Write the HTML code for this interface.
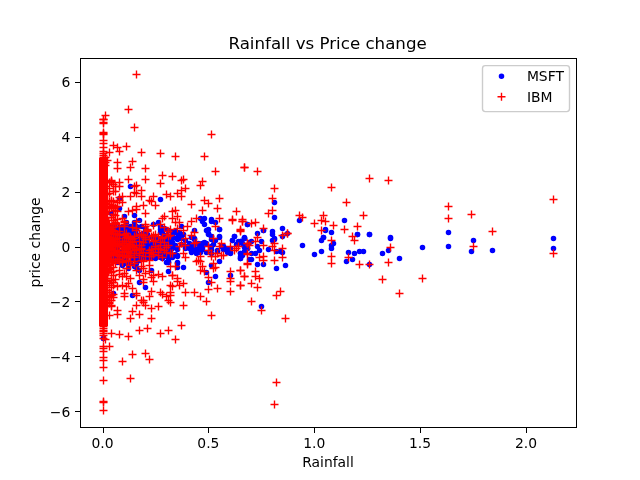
<!DOCTYPE html>
<html><head><meta charset="utf-8"><title>Rainfall vs Price change</title>
<style>
html,body{margin:0;padding:0;background:#fff;}
svg{display:block}
text{font-family:"DejaVu Sans","Liberation Sans",sans-serif;fill:#000}
.t{font-size:13.89px}
.r{stroke:#f00;stroke-width:1.39;fill:none}
.b{fill:#00f;stroke:#00f;stroke-width:1.39}
</style></head><body>
<svg width="640" height="480" viewBox="0 0 640 480">
<defs>
<path id="p" d="M-4 0H4M0 -4V4"/>
<circle id="d" r="2.08"/>
<clipPath id="c"><rect x="80" y="57.6" width="496" height="369.6"/></clipPath>
</defs>
<rect width="640" height="480" fill="#fff"/>

<g stroke="#000" stroke-width="1" shape-rendering="crispEdges">
<line x1="103.5" x2="103.5" y1="427.5" y2="432.5"/>
<line x1="208.5" x2="208.5" y1="427.5" y2="432.5"/>
<line x1="314.5" x2="314.5" y1="427.5" y2="432.5"/>
<line x1="420.5" x2="420.5" y1="427.5" y2="432.5"/>
<line x1="526.5" x2="526.5" y1="427.5" y2="432.5"/>
<line x1="75.2" x2="80" y1="82.5" y2="82.5"/>
<line x1="75.2" x2="80" y1="137.5" y2="137.5"/>
<line x1="75.2" x2="80" y1="192.5" y2="192.5"/>
<line x1="75.2" x2="80" y1="247.5" y2="247.5"/>
<line x1="75.2" x2="80" y1="301.5" y2="301.5"/>
<line x1="75.2" x2="80" y1="356.5" y2="356.5"/>
<line x1="75.2" x2="80" y1="411.5" y2="411.5"/>
</g>
<g class="t" text-anchor="middle">
<text x="102.55" y="448.28">0.0</text>
<text x="208.39" y="448.28">0.5</text>
<text x="314.24" y="448.28">1.0</text>
<text x="420.09" y="448.28">1.5</text>
<text x="525.93" y="448.28">2.0</text>
<text x="328" y="467.17">Rainfall</text>
</g>
<g class="t" text-anchor="end">
<text x="70.28" y="87.48">6</text>
<text x="70.28" y="142.33">4</text>
<text x="70.28" y="197.18">2</text>
<text x="70.28" y="252.03">0</text>
<text x="70.28" y="306.88">−2</text>
<text x="70.28" y="361.73">−4</text>
<text x="70.28" y="416.58">−6</text>
</g>
<text class="t" text-anchor="middle" transform="translate(40.36 242.4) rotate(-90)">price change</text>
<text text-anchor="middle" x="327.6" y="49.27" style="font-size:16.67px">Rainfall vs Price change</text>
<g clip-path="url(#c)">
<g class="b">
<use href="#d" x="130.5" y="186.5"/>
<use href="#d" x="160.5" y="199.5"/>
<use href="#d" x="124.5" y="216.5"/>
<use href="#d" x="111.5" y="213.5"/>
<use href="#d" x="134.5" y="215.5"/>
<use href="#d" x="119.5" y="198.5"/>
<use href="#d" x="274.5" y="202.5"/>
<use href="#d" x="274.5" y="217.5"/>
<use href="#d" x="299.5" y="220.5"/>
<use href="#d" x="344.5" y="220.5"/>
<use href="#d" x="247.5" y="224.5"/>
<use href="#d" x="282.5" y="228.5"/>
<use href="#d" x="263.5" y="230.5"/>
<use href="#d" x="272.5" y="231.5"/>
<use href="#d" x="272.5" y="234.5"/>
<use href="#d" x="287.5" y="233.5"/>
<use href="#d" x="257.5" y="233.5"/>
<use href="#d" x="325.5" y="229.5"/>
<use href="#d" x="331.5" y="232.5"/>
<use href="#d" x="357.5" y="234.5"/>
<use href="#d" x="369.5" y="234.5"/>
<use href="#d" x="323.5" y="237.5"/>
<use href="#d" x="390.5" y="237.5"/>
<use href="#d" x="244.5" y="237.5"/>
<use href="#d" x="274.5" y="238.5"/>
<use href="#d" x="448.5" y="232.5"/>
<use href="#d" x="473.5" y="240.5"/>
<use href="#d" x="553.5" y="238.5"/>
<use href="#d" x="553.5" y="248.5"/>
<use href="#d" x="422.5" y="247.5"/>
<use href="#d" x="448.5" y="246.5"/>
<use href="#d" x="471.5" y="251.5"/>
<use href="#d" x="492.5" y="250.5"/>
<use href="#d" x="399.5" y="258.5"/>
<use href="#d" x="325.5" y="230.5"/>
<use href="#d" x="323.5" y="237.5"/>
<use href="#d" x="321.5" y="240.5"/>
<use href="#d" x="357.5" y="234.5"/>
<use href="#d" x="369.5" y="234.5"/>
<use href="#d" x="390.5" y="238.5"/>
<use href="#d" x="333.5" y="243.5"/>
<use href="#d" x="331.5" y="245.5"/>
<use href="#d" x="331.5" y="248.5"/>
<use href="#d" x="321.5" y="251.5"/>
<use href="#d" x="348.5" y="252.5"/>
<use href="#d" x="354.5" y="253.5"/>
<use href="#d" x="359.5" y="251.5"/>
<use href="#d" x="363.5" y="251.5"/>
<use href="#d" x="382.5" y="253.5"/>
<use href="#d" x="388.5" y="250.5"/>
<use href="#d" x="346.5" y="261.5"/>
<use href="#d" x="352.5" y="259.5"/>
<use href="#d" x="369.5" y="264.5"/>
<use href="#d" x="263.5" y="230.5"/>
<use href="#d" x="282.5" y="236.5"/>
<use href="#d" x="244.5" y="238.5"/>
<use href="#d" x="240.5" y="241.5"/>
<use href="#d" x="244.5" y="245.5"/>
<use href="#d" x="251.5" y="241.5"/>
<use href="#d" x="261.5" y="241.5"/>
<use href="#d" x="272.5" y="240.5"/>
<use href="#d" x="274.5" y="239.5"/>
<use href="#d" x="257.5" y="246.5"/>
<use href="#d" x="259.5" y="250.5"/>
<use href="#d" x="255.5" y="253.5"/>
<use href="#d" x="251.5" y="253.5"/>
<use href="#d" x="268.5" y="249.5"/>
<use href="#d" x="276.5" y="251.5"/>
<use href="#d" x="280.5" y="251.5"/>
<use href="#d" x="282.5" y="252.5"/>
<use href="#d" x="242.5" y="253.5"/>
<use href="#d" x="240.5" y="258.5"/>
<use href="#d" x="251.5" y="259.5"/>
<use href="#d" x="257.5" y="264.5"/>
<use href="#d" x="263.5" y="264.5"/>
<use href="#d" x="276.5" y="268.5"/>
<use href="#d" x="285.5" y="265.5"/>
<use href="#d" x="302.5" y="245.5"/>
<use href="#d" x="314.5" y="254.5"/>
<use href="#d" x="261.5" y="306.5"/>
<use href="#d" x="103.5" y="338.5"/>
<use href="#d" x="139.5" y="282.5"/>
<use href="#d" x="145.5" y="287.5"/>
<use href="#d" x="113.5" y="293.5"/>
<use href="#d" x="132.5" y="295.5"/>
<use href="#d" x="103.5" y="338.5"/>
<use href="#d" x="208.5" y="282.5"/>
<use href="#d" x="202.5" y="221.5"/>
<use href="#d" x="204.5" y="224.5"/>
<use href="#d" x="211.5" y="221.5"/>
<use href="#d" x="215.5" y="222.5"/>
<use href="#d" x="208.5" y="229.5"/>
<use href="#d" x="219.5" y="229.5"/>
<use href="#d" x="208.5" y="233.5"/>
<use href="#d" x="211.5" y="236.5"/>
<use href="#d" x="219.5" y="236.5"/>
<use href="#d" x="181.5" y="226.5"/>
<use href="#d" x="175.5" y="231.5"/>
<use href="#d" x="179.5" y="232.5"/>
<use href="#d" x="172.5" y="235.5"/>
<use href="#d" x="177.5" y="237.5"/>
<use href="#d" x="172.5" y="242.5"/>
<use href="#d" x="194.5" y="230.5"/>
<use href="#d" x="194.5" y="238.5"/>
<use href="#d" x="234.5" y="236.5"/>
<use href="#d" x="244.5" y="238.5"/>
<use href="#d" x="232.5" y="240.5"/>
<use href="#d" x="240.5" y="241.5"/>
<use href="#d" x="238.5" y="243.5"/>
<use href="#d" x="247.5" y="224.5"/>
<use href="#d" x="202.5" y="243.5"/>
<use href="#d" x="206.5" y="243.5"/>
<use href="#d" x="200.5" y="246.5"/>
<use href="#d" x="202.5" y="249.5"/>
<use href="#d" x="191.5" y="246.5"/>
<use href="#d" x="189.5" y="248.5"/>
<use href="#d" x="191.5" y="250.5"/>
<use href="#d" x="196.5" y="252.5"/>
<use href="#d" x="185.5" y="248.5"/>
<use href="#d" x="211.5" y="246.5"/>
<use href="#d" x="223.5" y="246.5"/>
<use href="#d" x="225.5" y="248.5"/>
<use href="#d" x="227.5" y="251.5"/>
<use href="#d" x="230.5" y="252.5"/>
<use href="#d" x="206.5" y="252.5"/>
<use href="#d" x="217.5" y="250.5"/>
<use href="#d" x="240.5" y="253.5"/>
<use href="#d" x="240.5" y="256.5"/>
<use href="#d" x="240.5" y="258.5"/>
<use href="#d" x="249.5" y="259.5"/>
<use href="#d" x="177.5" y="255.5"/>
<use href="#d" x="172.5" y="255.5"/>
<use href="#d" x="219.5" y="261.5"/>
<use href="#d" x="211.5" y="265.5"/>
<use href="#d" x="177.5" y="263.5"/>
<use href="#d" x="183.5" y="267.5"/>
<use href="#d" x="206.5" y="272.5"/>
<use href="#d" x="215.5" y="276.5"/>
<use href="#d" x="230.5" y="275.5"/>
<use href="#d" x="244.5" y="246.5"/>
<use href="#d" x="247.5" y="248.5"/>
<use href="#d" x="200.5" y="218.5"/>
<use href="#d" x="204.5" y="218.5"/>
<use href="#d" x="211.5" y="219.5"/>
<use href="#d" x="119.5" y="208.5"/>
<use href="#d" x="168.5" y="271.5"/>
<use href="#d" x="168.5" y="262.5"/>
<use href="#d" x="151.5" y="270.5"/>
<use href="#d" x="139.5" y="270.5"/>
<use href="#d" x="177.5" y="262.5"/>
<use href="#d" x="177.5" y="267.5"/>
<use href="#d" x="126.5" y="263.5"/>
<use href="#d" x="122.5" y="265.5"/>
<use href="#d" x="128.5" y="268.5"/>
<use href="#d" x="219.5" y="229.5"/>
<use href="#d" x="219.5" y="237.5"/>
<use href="#d" x="234.5" y="236.5"/>
<use href="#d" x="244.5" y="238.5"/>
<use href="#d" x="232.5" y="240.5"/>
<use href="#d" x="211.5" y="236.5"/>
<use href="#d" x="211.5" y="239.5"/>
<use href="#d" x="215.5" y="240.5"/>
<use href="#d" x="213.5" y="244.5"/>
<use href="#d" x="211.5" y="246.5"/>
<use href="#d" x="238.5" y="241.5"/>
<use href="#d" x="236.5" y="244.5"/>
<use href="#d" x="242.5" y="243.5"/>
<use href="#d" x="223.5" y="246.5"/>
<use href="#d" x="223.5" y="249.5"/>
<use href="#d" x="244.5" y="247.5"/>
<use href="#d" x="247.5" y="248.5"/>
<use href="#d" x="249.5" y="242.5"/>
<use href="#d" x="217.5" y="251.5"/>
<use href="#d" x="211.5" y="249.5"/>
<use href="#d" x="230.5" y="248.5"/>
<use href="#d" x="227.5" y="252.5"/>
<use href="#d" x="230.5" y="253.5"/>
<use href="#d" x="240.5" y="253.5"/>
<use href="#d" x="242.5" y="255.5"/>
<use href="#d" x="244.5" y="251.5"/>
<use href="#d" x="221.5" y="246.5"/>
<use href="#d" x="211.5" y="253.5"/>
<use href="#d" x="172.5" y="233.5"/>
<use href="#d" x="175.5" y="232.5"/>
<use href="#d" x="179.5" y="233.5"/>
<use href="#d" x="183.5" y="234.5"/>
<use href="#d" x="172.5" y="238.5"/>
<use href="#d" x="177.5" y="239.5"/>
<use href="#d" x="181.5" y="238.5"/>
<use href="#d" x="185.5" y="240.5"/>
<use href="#d" x="172.5" y="243.5"/>
<use href="#d" x="175.5" y="245.5"/>
<use href="#d" x="181.5" y="244.5"/>
<use href="#d" x="185.5" y="246.5"/>
<use href="#d" x="172.5" y="248.5"/>
<use href="#d" x="177.5" y="249.5"/>
<use href="#d" x="189.5" y="243.5"/>
<use href="#d" x="194.5" y="244.5"/>
<use href="#d" x="198.5" y="243.5"/>
<use href="#d" x="202.5" y="243.5"/>
<use href="#d" x="204.5" y="242.5"/>
<use href="#d" x="191.5" y="248.5"/>
<use href="#d" x="194.5" y="249.5"/>
<use href="#d" x="198.5" y="248.5"/>
<use href="#d" x="202.5" y="247.5"/>
<use href="#d" x="191.5" y="252.5"/>
<use href="#d" x="196.5" y="253.5"/>
<use href="#d" x="200.5" y="252.5"/>
<use href="#d" x="206.5" y="230.5"/>
<use href="#d" x="208.5" y="234.5"/>
<use href="#d" x="191.5" y="237.5"/>
<use href="#d" x="194.5" y="239.5"/>
<use href="#d" x="170.5" y="250.5"/>
<use href="#d" x="175.5" y="254.5"/>
<use href="#d" x="172.5" y="257.5"/>
<use href="#d" x="177.5" y="256.5"/>
<use href="#d" x="134.5" y="222.5"/>
<use href="#d" x="136.5" y="226.5"/>
<use href="#d" x="158.5" y="222.5"/>
<use href="#d" x="160.5" y="226.5"/>
<use href="#d" x="160.5" y="229.5"/>
<use href="#d" x="164.5" y="228.5"/>
<use href="#d" x="168.5" y="230.5"/>
<use href="#d" x="172.5" y="232.5"/>
<use href="#d" x="162.5" y="233.5"/>
<use href="#d" x="166.5" y="235.5"/>
<use href="#d" x="170.5" y="236.5"/>
<use href="#d" x="141.5" y="226.5"/>
<use href="#d" x="145.5" y="230.5"/>
<use href="#d" x="143.5" y="234.5"/>
<use href="#d" x="147.5" y="236.5"/>
<use href="#d" x="147.5" y="242.5"/>
<use href="#d" x="151.5" y="244.5"/>
<use href="#d" x="155.5" y="243.5"/>
<use href="#d" x="160.5" y="245.5"/>
<use href="#d" x="164.5" y="244.5"/>
<use href="#d" x="168.5" y="243.5"/>
<use href="#d" x="172.5" y="245.5"/>
<use href="#d" x="141.5" y="243.5"/>
<use href="#d" x="145.5" y="242.5"/>
<use href="#d" x="149.5" y="243.5"/>
<use href="#d" x="153.5" y="242.5"/>
<use href="#d" x="158.5" y="243.5"/>
<use href="#d" x="162.5" y="242.5"/>
<use href="#d" x="166.5" y="243.5"/>
<use href="#d" x="170.5" y="242.5"/>
<use href="#d" x="143.5" y="247.5"/>
<use href="#d" x="147.5" y="248.5"/>
<use href="#d" x="151.5" y="247.5"/>
<use href="#d" x="155.5" y="248.5"/>
<use href="#d" x="158.5" y="247.5"/>
<use href="#d" x="162.5" y="248.5"/>
<use href="#d" x="166.5" y="247.5"/>
<use href="#d" x="141.5" y="252.5"/>
<use href="#d" x="145.5" y="252.5"/>
<use href="#d" x="149.5" y="253.5"/>
<use href="#d" x="153.5" y="252.5"/>
<use href="#d" x="158.5" y="253.5"/>
<use href="#d" x="162.5" y="254.5"/>
<use href="#d" x="166.5" y="253.5"/>
<use href="#d" x="170.5" y="252.5"/>
<use href="#d" x="143.5" y="257.5"/>
<use href="#d" x="147.5" y="257.5"/>
<use href="#d" x="151.5" y="257.5"/>
<use href="#d" x="155.5" y="257.5"/>
<use href="#d" x="160.5" y="257.5"/>
<use href="#d" x="164.5" y="256.5"/>
<use href="#d" x="168.5" y="257.5"/>
<use href="#d" x="168.5" y="262.5"/>
<use href="#d" x="136.5" y="263.5"/>
<use href="#d" x="136.5" y="267.5"/>
<use href="#d" x="134.5" y="266.5"/>
<use href="#d" x="126.5" y="227.5"/>
<use href="#d" x="128.5" y="239.5"/>
<use href="#d" x="130.5" y="241.5"/>
<use href="#d" x="130.5" y="243.5"/>
<use href="#d" x="141.5" y="247.5"/>
<use href="#d" x="117.5" y="242.5"/>
<use href="#d" x="145.5" y="242.5"/>
<use href="#d" x="132.5" y="251.5"/>
<use href="#d" x="113.5" y="248.5"/>
<use href="#d" x="132.5" y="248.5"/>
<use href="#d" x="143.5" y="233.5"/>
<use href="#d" x="128.5" y="246.5"/>
<use href="#d" x="151.5" y="246.5"/>
<use href="#d" x="117.5" y="247.5"/>
<use href="#d" x="160.5" y="232.5"/>
<use href="#d" x="122.5" y="256.5"/>
<use href="#d" x="124.5" y="257.5"/>
<use href="#d" x="162.5" y="252.5"/>
<use href="#d" x="115.5" y="253.5"/>
<use href="#d" x="158.5" y="250.5"/>
<use href="#d" x="109.5" y="246.5"/>
<use href="#d" x="164.5" y="251.5"/>
<use href="#d" x="126.5" y="256.5"/>
<use href="#d" x="111.5" y="245.5"/>
<use href="#d" x="143.5" y="241.5"/>
<use href="#d" x="109.5" y="241.5"/>
<use href="#d" x="115.5" y="249.5"/>
<use href="#d" x="166.5" y="240.5"/>
<use href="#d" x="124.5" y="254.5"/>
<use href="#d" x="113.5" y="245.5"/>
<use href="#d" x="119.5" y="261.5"/>
<use href="#d" x="117.5" y="250.5"/>
<use href="#d" x="136.5" y="248.5"/>
<use href="#d" x="115.5" y="239.5"/>
<use href="#d" x="126.5" y="241.5"/>
<use href="#d" x="128.5" y="230.5"/>
<use href="#d" x="111.5" y="238.5"/>
<use href="#d" x="111.5" y="260.5"/>
<use href="#d" x="115.5" y="237.5"/>
<use href="#d" x="111.5" y="245.5"/>
<use href="#d" x="111.5" y="225.5"/>
<use href="#d" x="139.5" y="242.5"/>
<use href="#d" x="113.5" y="244.5"/>
<use href="#d" x="170.5" y="239.5"/>
<use href="#d" x="139.5" y="244.5"/>
<use href="#d" x="151.5" y="251.5"/>
<use href="#d" x="141.5" y="257.5"/>
<use href="#d" x="115.5" y="251.5"/>
<use href="#d" x="115.5" y="243.5"/>
<use href="#d" x="111.5" y="247.5"/>
<use href="#d" x="122.5" y="242.5"/>
<use href="#d" x="122.5" y="244.5"/>
<use href="#d" x="145.5" y="242.5"/>
<use href="#d" x="109.5" y="235.5"/>
<use href="#d" x="149.5" y="248.5"/>
<use href="#d" x="153.5" y="238.5"/>
<use href="#d" x="117.5" y="250.5"/>
<use href="#d" x="134.5" y="246.5"/>
<use href="#d" x="155.5" y="258.5"/>
<use href="#d" x="149.5" y="237.5"/>
<use href="#d" x="164.5" y="253.5"/>
<use href="#d" x="147.5" y="242.5"/>
<use href="#d" x="124.5" y="251.5"/>
<use href="#d" x="136.5" y="229.5"/>
<use href="#d" x="141.5" y="237.5"/>
<use href="#d" x="139.5" y="254.5"/>
<use href="#d" x="153.5" y="224.5"/>
<use href="#d" x="122.5" y="245.5"/>
<use href="#d" x="126.5" y="234.5"/>
<use href="#d" x="139.5" y="240.5"/>
<use href="#d" x="149.5" y="247.5"/>
<use href="#d" x="130.5" y="231.5"/>
<use href="#d" x="115.5" y="233.5"/>
<use href="#d" x="113.5" y="259.5"/>
<use href="#d" x="111.5" y="257.5"/>
<use href="#d" x="126.5" y="239.5"/>
<use href="#d" x="119.5" y="243.5"/>
<use href="#d" x="126.5" y="241.5"/>
<use href="#d" x="166.5" y="262.5"/>
<use href="#d" x="122.5" y="236.5"/>
<use href="#d" x="136.5" y="244.5"/>
<use href="#d" x="130.5" y="250.5"/>
<use href="#d" x="115.5" y="234.5"/>
<use href="#d" x="111.5" y="239.5"/>
<use href="#d" x="113.5" y="248.5"/>
<use href="#d" x="124.5" y="239.5"/>
<use href="#d" x="117.5" y="239.5"/>
<use href="#d" x="151.5" y="244.5"/>
<use href="#d" x="136.5" y="240.5"/>
<use href="#d" x="109.5" y="244.5"/>
<use href="#d" x="170.5" y="247.5"/>
<use href="#d" x="113.5" y="248.5"/>
<use href="#d" x="141.5" y="248.5"/>
<use href="#d" x="126.5" y="237.5"/>
<use href="#d" x="166.5" y="236.5"/>
<use href="#d" x="147.5" y="249.5"/>
<use href="#d" x="111.5" y="256.5"/>
<use href="#d" x="111.5" y="248.5"/>
<use href="#d" x="115.5" y="238.5"/>
<use href="#d" x="132.5" y="257.5"/>
<use href="#d" x="141.5" y="246.5"/>
<use href="#d" x="164.5" y="237.5"/>
<use href="#d" x="109.5" y="240.5"/>
<use href="#d" x="126.5" y="232.5"/>
<use href="#d" x="122.5" y="232.5"/>
<use href="#d" x="136.5" y="258.5"/>
<use href="#d" x="128.5" y="235.5"/>
<use href="#d" x="143.5" y="250.5"/>
<use href="#d" x="168.5" y="260.5"/>
<use href="#d" x="143.5" y="245.5"/>
<use href="#d" x="132.5" y="240.5"/>
<use href="#d" x="164.5" y="238.5"/>
<use href="#d" x="160.5" y="250.5"/>
<use href="#d" x="130.5" y="262.5"/>
<use href="#d" x="164.5" y="250.5"/>
<use href="#d" x="162.5" y="253.5"/>
<use href="#d" x="109.5" y="252.5"/>
<use href="#d" x="153.5" y="255.5"/>
<use href="#d" x="130.5" y="226.5"/>
<use href="#d" x="117.5" y="257.5"/>
<use href="#d" x="153.5" y="239.5"/>
<use href="#d" x="134.5" y="238.5"/>
<use href="#d" x="117.5" y="233.5"/>
<use href="#d" x="113.5" y="258.5"/>
<use href="#d" x="132.5" y="241.5"/>
<use href="#d" x="132.5" y="243.5"/>
<use href="#d" x="130.5" y="244.5"/>
<use href="#d" x="132.5" y="245.5"/>
<use href="#d" x="124.5" y="250.5"/>
<use href="#d" x="130.5" y="235.5"/>
<use href="#d" x="149.5" y="256.5"/>
<use href="#d" x="124.5" y="251.5"/>
<use href="#d" x="115.5" y="241.5"/>
<use href="#d" x="126.5" y="247.5"/>
<use href="#d" x="168.5" y="254.5"/>
<use href="#d" x="117.5" y="240.5"/>
<use href="#d" x="111.5" y="231.5"/>
<use href="#d" x="109.5" y="232.5"/>
<use href="#d" x="162.5" y="252.5"/>
<use href="#d" x="113.5" y="247.5"/>
<use href="#d" x="147.5" y="242.5"/>
<use href="#d" x="141.5" y="254.5"/>
<use href="#d" x="130.5" y="241.5"/>
<use href="#d" x="115.5" y="250.5"/>
<use href="#d" x="126.5" y="256.5"/>
<use href="#d" x="122.5" y="237.5"/>
<use href="#d" x="111.5" y="252.5"/>
<use href="#d" x="113.5" y="237.5"/>
<use href="#d" x="132.5" y="237.5"/>
<use href="#d" x="141.5" y="250.5"/>
<use href="#d" x="155.5" y="241.5"/>
<use href="#d" x="166.5" y="252.5"/>
<use href="#d" x="117.5" y="241.5"/>
<use href="#d" x="109.5" y="246.5"/>
<use href="#d" x="113.5" y="245.5"/>
<use href="#d" x="109.5" y="254.5"/>
<use href="#d" x="124.5" y="245.5"/>
<use href="#d" x="113.5" y="244.5"/>
<use href="#d" x="109.5" y="233.5"/>
<use href="#d" x="130.5" y="247.5"/>
<use href="#d" x="147.5" y="235.5"/>
<use href="#d" x="111.5" y="250.5"/>
<use href="#d" x="134.5" y="234.5"/>
<use href="#d" x="109.5" y="245.5"/>
<use href="#d" x="111.5" y="251.5"/>
<use href="#d" x="160.5" y="243.5"/>
<use href="#d" x="119.5" y="235.5"/>
<use href="#d" x="126.5" y="248.5"/>
<use href="#d" x="139.5" y="260.5"/>
<use href="#d" x="111.5" y="247.5"/>
<use href="#d" x="126.5" y="245.5"/>
<use href="#d" x="111.5" y="237.5"/>
<use href="#d" x="111.5" y="244.5"/>
<use href="#d" x="166.5" y="246.5"/>
<use href="#d" x="149.5" y="254.5"/>
<use href="#d" x="124.5" y="236.5"/>
<use href="#d" x="139.5" y="220.5"/>
<use href="#d" x="166.5" y="245.5"/>
<use href="#d" x="115.5" y="259.5"/>
<use href="#d" x="162.5" y="238.5"/>
<use href="#d" x="168.5" y="230.5"/>
<use href="#d" x="149.5" y="257.5"/>
<use href="#d" x="160.5" y="247.5"/>
<use href="#d" x="153.5" y="237.5"/>
<use href="#d" x="119.5" y="238.5"/>
<use href="#d" x="113.5" y="236.5"/>
<use href="#d" x="145.5" y="239.5"/>
<use href="#d" x="136.5" y="257.5"/>
<use href="#d" x="149.5" y="248.5"/>
<use href="#d" x="141.5" y="246.5"/>
<use href="#d" x="124.5" y="239.5"/>
<use href="#d" x="115.5" y="255.5"/>
<use href="#d" x="130.5" y="240.5"/>
<use href="#d" x="136.5" y="259.5"/>
<use href="#d" x="166.5" y="246.5"/>
<use href="#d" x="111.5" y="241.5"/>
<use href="#d" x="130.5" y="247.5"/>
<use href="#d" x="124.5" y="254.5"/>
<use href="#d" x="132.5" y="239.5"/>
<use href="#d" x="117.5" y="241.5"/>
<use href="#d" x="145.5" y="239.5"/>
<use href="#d" x="151.5" y="243.5"/>
<use href="#d" x="117.5" y="253.5"/>
<use href="#d" x="111.5" y="246.5"/>
<use href="#d" x="155.5" y="237.5"/>
<use href="#d" x="126.5" y="222.5"/>
<use href="#d" x="115.5" y="249.5"/>
<use href="#d" x="132.5" y="259.5"/>
<use href="#d" x="128.5" y="240.5"/>
<use href="#d" x="168.5" y="242.5"/>
<use href="#d" x="141.5" y="243.5"/>
<use href="#d" x="126.5" y="247.5"/>
<use href="#d" x="132.5" y="249.5"/>
<use href="#d" x="109.5" y="233.5"/>
<use href="#d" x="126.5" y="251.5"/>
<use href="#d" x="115.5" y="238.5"/>
<use href="#d" x="162.5" y="241.5"/>
<use href="#d" x="153.5" y="246.5"/>
<use href="#d" x="113.5" y="260.5"/>
<use href="#d" x="162.5" y="258.5"/>
<use href="#d" x="141.5" y="241.5"/>
<use href="#d" x="147.5" y="252.5"/>
<use href="#d" x="134.5" y="235.5"/>
<use href="#d" x="158.5" y="239.5"/>
<use href="#d" x="111.5" y="246.5"/>
<use href="#d" x="141.5" y="255.5"/>
<use href="#d" x="147.5" y="234.5"/>
<use href="#d" x="122.5" y="242.5"/>
<use href="#d" x="128.5" y="248.5"/>
<use href="#d" x="155.5" y="254.5"/>
<use href="#d" x="166.5" y="248.5"/>
<use href="#d" x="141.5" y="247.5"/>
<use href="#d" x="124.5" y="240.5"/>
<use href="#d" x="115.5" y="249.5"/>
<use href="#d" x="145.5" y="238.5"/>
<use href="#d" x="119.5" y="232.5"/>
<use href="#d" x="126.5" y="242.5"/>
<use href="#d" x="122.5" y="261.5"/>
<use href="#d" x="147.5" y="242.5"/>
<use href="#d" x="117.5" y="247.5"/>
<use href="#d" x="113.5" y="242.5"/>
<use href="#d" x="145.5" y="253.5"/>
<use href="#d" x="153.5" y="250.5"/>
<use href="#d" x="149.5" y="245.5"/>
<use href="#d" x="119.5" y="251.5"/>
<use href="#d" x="153.5" y="243.5"/>
<use href="#d" x="151.5" y="249.5"/>
<use href="#d" x="126.5" y="236.5"/>
<use href="#d" x="166.5" y="243.5"/>
<use href="#d" x="124.5" y="253.5"/>
<use href="#d" x="115.5" y="240.5"/>
<use href="#d" x="122.5" y="253.5"/>
<use href="#d" x="124.5" y="241.5"/>
<use href="#d" x="134.5" y="250.5"/>
<use href="#d" x="164.5" y="229.5"/>
<use href="#d" x="134.5" y="242.5"/>
<use href="#d" x="111.5" y="247.5"/>
<use href="#d" x="115.5" y="227.5"/>
<use href="#d" x="136.5" y="245.5"/>
<use href="#d" x="143.5" y="247.5"/>
<use href="#d" x="143.5" y="241.5"/>
<use href="#d" x="126.5" y="245.5"/>
<use href="#d" x="111.5" y="241.5"/>
<use href="#d" x="124.5" y="243.5"/>
<use href="#d" x="111.5" y="225.5"/>
<use href="#d" x="107.5" y="241.5"/>
<use href="#d" x="134.5" y="241.5"/>
<use href="#d" x="122.5" y="242.5"/>
<use href="#d" x="141.5" y="234.5"/>
<use href="#d" x="128.5" y="245.5"/>
<use href="#d" x="128.5" y="236.5"/>
<use href="#d" x="128.5" y="240.5"/>
<use href="#d" x="143.5" y="235.5"/>
<use href="#d" x="111.5" y="239.5"/>
<use href="#d" x="134.5" y="225.5"/>
<use href="#d" x="130.5" y="254.5"/>
<use href="#d" x="111.5" y="232.5"/>
<use href="#d" x="136.5" y="257.5"/>
<use href="#d" x="141.5" y="241.5"/>
<use href="#d" x="130.5" y="240.5"/>
<use href="#d" x="134.5" y="229.5"/>
<use href="#d" x="134.5" y="250.5"/>
<use href="#d" x="117.5" y="241.5"/>
<use href="#d" x="132.5" y="241.5"/>
<use href="#d" x="132.5" y="237.5"/>
<use href="#d" x="134.5" y="237.5"/>
<use href="#d" x="109.5" y="243.5"/>
<use href="#d" x="139.5" y="243.5"/>
<use href="#d" x="115.5" y="249.5"/>
<use href="#d" x="117.5" y="257.5"/>
<use href="#d" x="107.5" y="237.5"/>
<use href="#d" x="145.5" y="228.5"/>
<use href="#d" x="128.5" y="246.5"/>
<use href="#d" x="113.5" y="247.5"/>
<use href="#d" x="145.5" y="253.5"/>
<use href="#d" x="122.5" y="236.5"/>
<use href="#d" x="141.5" y="239.5"/>
<use href="#d" x="122.5" y="227.5"/>
<use href="#d" x="132.5" y="251.5"/>
<use href="#d" x="117.5" y="262.5"/>
<use href="#d" x="143.5" y="233.5"/>
<use href="#d" x="143.5" y="238.5"/>
<use href="#d" x="132.5" y="245.5"/>
<use href="#d" x="128.5" y="236.5"/>
<use href="#d" x="111.5" y="231.5"/>
<use href="#d" x="139.5" y="250.5"/>
<use href="#d" x="119.5" y="238.5"/>
<use href="#d" x="115.5" y="247.5"/>
<use href="#d" x="141.5" y="236.5"/>
<use href="#d" x="141.5" y="247.5"/>
<use href="#d" x="109.5" y="229.5"/>
<use href="#d" x="122.5" y="259.5"/>
<use href="#d" x="130.5" y="233.5"/>
<use href="#d" x="136.5" y="249.5"/>
<use href="#d" x="117.5" y="231.5"/>
<use href="#d" x="134.5" y="249.5"/>
<use href="#d" x="124.5" y="251.5"/>
<use href="#d" x="141.5" y="255.5"/>
<use href="#d" x="124.5" y="255.5"/>
<use href="#d" x="141.5" y="239.5"/>
<use href="#d" x="117.5" y="243.5"/>
<use href="#d" x="107.5" y="250.5"/>
<use href="#d" x="115.5" y="251.5"/>
<use href="#d" x="141.5" y="248.5"/>
<use href="#d" x="113.5" y="255.5"/>
<use href="#d" x="111.5" y="236.5"/>
<use href="#d" x="145.5" y="234.5"/>
<use href="#d" x="107.5" y="242.5"/>
<use href="#d" x="119.5" y="227.5"/>
<use href="#d" x="111.5" y="255.5"/>
<use href="#d" x="136.5" y="247.5"/>
<use href="#d" x="141.5" y="255.5"/>
<use href="#d" x="139.5" y="254.5"/>
<use href="#d" x="126.5" y="259.5"/>
<use href="#d" x="128.5" y="243.5"/>
<use href="#d" x="126.5" y="248.5"/>
<use href="#d" x="136.5" y="243.5"/>
<use href="#d" x="111.5" y="242.5"/>
<use href="#d" x="115.5" y="252.5"/>
<use href="#d" x="136.5" y="250.5"/>
<use href="#d" x="113.5" y="244.5"/>
<use href="#d" x="132.5" y="243.5"/>
<use href="#d" x="139.5" y="245.5"/>
<use href="#d" x="136.5" y="256.5"/>
<use href="#d" x="107.5" y="255.5"/>
<use href="#d" x="119.5" y="231.5"/>
<use href="#d" x="115.5" y="242.5"/>
<use href="#d" x="143.5" y="253.5"/>
<use href="#d" x="126.5" y="259.5"/>
<use href="#d" x="143.5" y="240.5"/>
<use href="#d" x="111.5" y="244.5"/>
<use href="#d" x="113.5" y="251.5"/>
<use href="#d" x="128.5" y="242.5"/>
<use href="#d" x="139.5" y="251.5"/>
<use href="#d" x="128.5" y="236.5"/>
<use href="#d" x="113.5" y="247.5"/>
<use href="#d" x="115.5" y="241.5"/>
<use href="#d" x="117.5" y="241.5"/>
<use href="#d" x="117.5" y="245.5"/>
<use href="#d" x="136.5" y="247.5"/>
<use href="#d" x="145.5" y="243.5"/>
<use href="#d" x="109.5" y="241.5"/>
<use href="#d" x="117.5" y="254.5"/>
<use href="#d" x="111.5" y="244.5"/>
<use href="#d" x="128.5" y="253.5"/>
<use href="#d" x="141.5" y="240.5"/>
<use href="#d" x="115.5" y="235.5"/>
<use href="#d" x="132.5" y="232.5"/>
<use href="#d" x="139.5" y="240.5"/>
<use href="#d" x="107.5" y="253.5"/>
<use href="#d" x="132.5" y="239.5"/>
<use href="#d" x="122.5" y="239.5"/>
<use href="#d" x="141.5" y="253.5"/>
<use href="#d" x="128.5" y="245.5"/>
<use href="#d" x="126.5" y="242.5"/>
<use href="#d" x="132.5" y="241.5"/>
<use href="#d" x="119.5" y="229.5"/>
<use href="#d" x="113.5" y="244.5"/>
<use href="#d" x="117.5" y="244.5"/>
<use href="#d" x="126.5" y="256.5"/>
<use href="#d" x="143.5" y="246.5"/>
<use href="#d" x="141.5" y="257.5"/>
<use href="#d" x="115.5" y="239.5"/>
<use href="#d" x="141.5" y="242.5"/>
<use href="#d" x="119.5" y="243.5"/>
<use href="#d" x="119.5" y="244.5"/>
<use href="#d" x="111.5" y="251.5"/>
<use href="#d" x="134.5" y="252.5"/>
<use href="#d" x="128.5" y="235.5"/>
<use href="#d" x="130.5" y="263.5"/>
<use href="#d" x="124.5" y="240.5"/>
<use href="#d" x="115.5" y="246.5"/>
<use href="#d" x="122.5" y="254.5"/>
<use href="#d" x="143.5" y="238.5"/>
<use href="#d" x="111.5" y="238.5"/>
<use href="#d" x="128.5" y="242.5"/>
<use href="#d" x="115.5" y="257.5"/>
<use href="#d" x="126.5" y="256.5"/>
<use href="#d" x="130.5" y="245.5"/>
<use href="#d" x="117.5" y="256.5"/>
<use href="#d" x="117.5" y="231.5"/>
<use href="#d" x="136.5" y="235.5"/>
<use href="#d" x="109.5" y="232.5"/>
<use href="#d" x="115.5" y="253.5"/>
<use href="#d" x="126.5" y="245.5"/>
<use href="#d" x="132.5" y="227.5"/>
<use href="#d" x="145.5" y="235.5"/>
<use href="#d" x="117.5" y="233.5"/>
<use href="#d" x="119.5" y="243.5"/>
<use href="#d" x="141.5" y="246.5"/>
<use href="#d" x="132.5" y="251.5"/>
<use href="#d" x="128.5" y="251.5"/>
<use href="#d" x="141.5" y="249.5"/>
<use href="#d" x="128.5" y="249.5"/>
<use href="#d" x="109.5" y="243.5"/>
<use href="#d" x="115.5" y="243.5"/>
<use href="#d" x="132.5" y="256.5"/>
<use href="#d" x="139.5" y="241.5"/>
<use href="#d" x="130.5" y="234.5"/>
<use href="#d" x="145.5" y="251.5"/>
<use href="#d" x="134.5" y="245.5"/>
<use href="#d" x="136.5" y="234.5"/>
<use href="#d" x="134.5" y="247.5"/>
<use href="#d" x="113.5" y="240.5"/>
<use href="#d" x="141.5" y="239.5"/>
<use href="#d" x="134.5" y="254.5"/>
<use href="#d" x="107.5" y="243.5"/>
<use href="#d" x="134.5" y="247.5"/>
<use href="#d" x="132.5" y="232.5"/>
</g>
<path d="M99 158h9v62h2v44h-2v62h-9z" fill="#f00"/>
<g class="r">
<use href="#p" x="136.5" y="74.5"/>
<use href="#p" x="128.5" y="109.5"/>
<use href="#p" x="105.5" y="115.5"/>
<use href="#p" x="134.5" y="127.5"/>
<use href="#p" x="113.5" y="145.5"/>
<use href="#p" x="117.5" y="147.5"/>
<use href="#p" x="126.5" y="146.5"/>
<use href="#p" x="119.5" y="151.5"/>
<use href="#p" x="109.5" y="152.5"/>
<use href="#p" x="141.5" y="152.5"/>
<use href="#p" x="160.5" y="153.5"/>
<use href="#p" x="132.5" y="161.5"/>
<use href="#p" x="117.5" y="162.5"/>
<use href="#p" x="107.5" y="160.5"/>
<use href="#p" x="130.5" y="167.5"/>
<use href="#p" x="145.5" y="168.5"/>
<use href="#p" x="117.5" y="168.5"/>
<use href="#p" x="162.5" y="175.5"/>
<use href="#p" x="128.5" y="179.5"/>
<use href="#p" x="145.5" y="179.5"/>
<use href="#p" x="119.5" y="182.5"/>
<use href="#p" x="160.5" y="183.5"/>
<use href="#p" x="136.5" y="185.5"/>
<use href="#p" x="134.5" y="186.5"/>
<use href="#p" x="119.5" y="186.5"/>
<use href="#p" x="141.5" y="190.5"/>
<use href="#p" x="134.5" y="192.5"/>
<use href="#p" x="136.5" y="193.5"/>
<use href="#p" x="166.5" y="194.5"/>
<use href="#p" x="130.5" y="196.5"/>
<use href="#p" x="141.5" y="196.5"/>
<use href="#p" x="153.5" y="196.5"/>
<use href="#p" x="122.5" y="196.5"/>
<use href="#p" x="149.5" y="200.5"/>
<use href="#p" x="151.5" y="201.5"/>
<use href="#p" x="143.5" y="205.5"/>
<use href="#p" x="155.5" y="205.5"/>
<use href="#p" x="136.5" y="206.5"/>
<use href="#p" x="119.5" y="197.5"/>
<use href="#p" x="128.5" y="211.5"/>
<use href="#p" x="132.5" y="210.5"/>
<use href="#p" x="136.5" y="209.5"/>
<use href="#p" x="145.5" y="213.5"/>
<use href="#p" x="164.5" y="216.5"/>
<use href="#p" x="162.5" y="218.5"/>
<use href="#p" x="211.5" y="134.5"/>
<use href="#p" x="175.5" y="156.5"/>
<use href="#p" x="204.5" y="156.5"/>
<use href="#p" x="244.5" y="167.5"/>
<use href="#p" x="257.5" y="171.5"/>
<use href="#p" x="274.5" y="188.5"/>
<use href="#p" x="272.5" y="198.5"/>
<use href="#p" x="331.5" y="187.5"/>
<use href="#p" x="369.5" y="178.5"/>
<use href="#p" x="388.5" y="180.5"/>
<use href="#p" x="346.5" y="202.5"/>
<use href="#p" x="272.5" y="210.5"/>
<use href="#p" x="268.5" y="213.5"/>
<use href="#p" x="299.5" y="215.5"/>
<use href="#p" x="302.5" y="217.5"/>
<use href="#p" x="323.5" y="215.5"/>
<use href="#p" x="321.5" y="220.5"/>
<use href="#p" x="325.5" y="221.5"/>
<use href="#p" x="363.5" y="215.5"/>
<use href="#p" x="314.5" y="223.5"/>
<use href="#p" x="333.5" y="225.5"/>
<use href="#p" x="357.5" y="226.5"/>
<use href="#p" x="344.5" y="229.5"/>
<use href="#p" x="321.5" y="230.5"/>
<use href="#p" x="242.5" y="221.5"/>
<use href="#p" x="255.5" y="222.5"/>
<use href="#p" x="251.5" y="223.5"/>
<use href="#p" x="263.5" y="228.5"/>
<use href="#p" x="240.5" y="230.5"/>
<use href="#p" x="287.5" y="233.5"/>
<use href="#p" x="282.5" y="235.5"/>
<use href="#p" x="352.5" y="236.5"/>
<use href="#p" x="257.5" y="237.5"/>
<use href="#p" x="448.5" y="206.5"/>
<use href="#p" x="448.5" y="218.5"/>
<use href="#p" x="471.5" y="214.5"/>
<use href="#p" x="492.5" y="231.5"/>
<use href="#p" x="553.5" y="199.5"/>
<use href="#p" x="473.5" y="246.5"/>
<use href="#p" x="553.5" y="253.5"/>
<use href="#p" x="422.5" y="278.5"/>
<use href="#p" x="399.5" y="293.5"/>
<use href="#p" x="331.5" y="240.5"/>
<use href="#p" x="354.5" y="240.5"/>
<use href="#p" x="390.5" y="247.5"/>
<use href="#p" x="331.5" y="256.5"/>
<use href="#p" x="331.5" y="263.5"/>
<use href="#p" x="348.5" y="257.5"/>
<use href="#p" x="359.5" y="264.5"/>
<use href="#p" x="369.5" y="264.5"/>
<use href="#p" x="388.5" y="262.5"/>
<use href="#p" x="382.5" y="279.5"/>
<use href="#p" x="255.5" y="241.5"/>
<use href="#p" x="247.5" y="243.5"/>
<use href="#p" x="263.5" y="245.5"/>
<use href="#p" x="287.5" y="233.5"/>
<use href="#p" x="274.5" y="243.5"/>
<use href="#p" x="272.5" y="246.5"/>
<use href="#p" x="274.5" y="250.5"/>
<use href="#p" x="282.5" y="248.5"/>
<use href="#p" x="247.5" y="254.5"/>
<use href="#p" x="259.5" y="257.5"/>
<use href="#p" x="263.5" y="256.5"/>
<use href="#p" x="263.5" y="260.5"/>
<use href="#p" x="274.5" y="260.5"/>
<use href="#p" x="282.5" y="257.5"/>
<use href="#p" x="247.5" y="264.5"/>
<use href="#p" x="240.5" y="270.5"/>
<use href="#p" x="255.5" y="271.5"/>
<use href="#p" x="255.5" y="276.5"/>
<use href="#p" x="259.5" y="278.5"/>
<use href="#p" x="244.5" y="276.5"/>
<use href="#p" x="251.5" y="283.5"/>
<use href="#p" x="240.5" y="285.5"/>
<use href="#p" x="257.5" y="287.5"/>
<use href="#p" x="276.5" y="295.5"/>
<use href="#p" x="251.5" y="301.5"/>
<use href="#p" x="261.5" y="310.5"/>
<use href="#p" x="285.5" y="318.5"/>
<use href="#p" x="276.5" y="382.5"/>
<use href="#p" x="274.5" y="404.5"/>
<use href="#p" x="280.5" y="291.5"/>
<use href="#p" x="103.5" y="367.5"/>
<use href="#p" x="103.5" y="380.5"/>
<use href="#p" x="103.5" y="401.5"/>
<use href="#p" x="103.5" y="402.5"/>
<use href="#p" x="103.5" y="410.5"/>
<use href="#p" x="103.5" y="357.5"/>
<use href="#p" x="103.5" y="360.5"/>
<use href="#p" x="103.5" y="346.5"/>
<use href="#p" x="103.5" y="348.5"/>
<use href="#p" x="103.5" y="351.5"/>
<use href="#p" x="175.5" y="339.5"/>
<use href="#p" x="109.5" y="346.5"/>
<use href="#p" x="132.5" y="354.5"/>
<use href="#p" x="145.5" y="353.5"/>
<use href="#p" x="149.5" y="359.5"/>
<use href="#p" x="122.5" y="361.5"/>
<use href="#p" x="130.5" y="378.5"/>
<use href="#p" x="105.5" y="339.5"/>
<use href="#p" x="117.5" y="310.5"/>
<use href="#p" x="117.5" y="314.5"/>
<use href="#p" x="132.5" y="311.5"/>
<use href="#p" x="139.5" y="314.5"/>
<use href="#p" x="130.5" y="318.5"/>
<use href="#p" x="151.5" y="318.5"/>
<use href="#p" x="151.5" y="308.5"/>
<use href="#p" x="158.5" y="306.5"/>
<use href="#p" x="136.5" y="305.5"/>
<use href="#p" x="145.5" y="305.5"/>
<use href="#p" x="141.5" y="300.5"/>
<use href="#p" x="143.5" y="300.5"/>
<use href="#p" x="143.5" y="302.5"/>
<use href="#p" x="149.5" y="296.5"/>
<use href="#p" x="151.5" y="291.5"/>
<use href="#p" x="160.5" y="292.5"/>
<use href="#p" x="162.5" y="294.5"/>
<use href="#p" x="166.5" y="296.5"/>
<use href="#p" x="168.5" y="300.5"/>
<use href="#p" x="136.5" y="293.5"/>
<use href="#p" x="136.5" y="295.5"/>
<use href="#p" x="124.5" y="293.5"/>
<use href="#p" x="124.5" y="296.5"/>
<use href="#p" x="132.5" y="288.5"/>
<use href="#p" x="126.5" y="286.5"/>
<use href="#p" x="128.5" y="283.5"/>
<use href="#p" x="122.5" y="285.5"/>
<use href="#p" x="117.5" y="286.5"/>
<use href="#p" x="113.5" y="285.5"/>
<use href="#p" x="111.5" y="287.5"/>
<use href="#p" x="113.5" y="294.5"/>
<use href="#p" x="113.5" y="297.5"/>
<use href="#p" x="111.5" y="300.5"/>
<use href="#p" x="109.5" y="302.5"/>
<use href="#p" x="143.5" y="282.5"/>
<use href="#p" x="153.5" y="281.5"/>
<use href="#p" x="170.5" y="285.5"/>
<use href="#p" x="109.5" y="315.5"/>
<use href="#p" x="139.5" y="330.5"/>
<use href="#p" x="147.5" y="328.5"/>
<use href="#p" x="160.5" y="333.5"/>
<use href="#p" x="168.5" y="330.5"/>
<use href="#p" x="119.5" y="334.5"/>
<use href="#p" x="111.5" y="333.5"/>
<use href="#p" x="128.5" y="336.5"/>
<use href="#p" x="103.5" y="328.5"/>
<use href="#p" x="103.5" y="330.5"/>
<use href="#p" x="103.5" y="331.5"/>
<use href="#p" x="103.5" y="333.5"/>
<use href="#p" x="103.5" y="335.5"/>
<use href="#p" x="103.5" y="338.5"/>
<use href="#p" x="177.5" y="281.5"/>
<use href="#p" x="183.5" y="283.5"/>
<use href="#p" x="179.5" y="285.5"/>
<use href="#p" x="172.5" y="286.5"/>
<use href="#p" x="211.5" y="282.5"/>
<use href="#p" x="230.5" y="281.5"/>
<use href="#p" x="240.5" y="285.5"/>
<use href="#p" x="208.5" y="289.5"/>
<use href="#p" x="217.5" y="288.5"/>
<use href="#p" x="230.5" y="291.5"/>
<use href="#p" x="185.5" y="292.5"/>
<use href="#p" x="194.5" y="292.5"/>
<use href="#p" x="200.5" y="296.5"/>
<use href="#p" x="206.5" y="301.5"/>
<use href="#p" x="183.5" y="305.5"/>
<use href="#p" x="170.5" y="295.5"/>
<use href="#p" x="170.5" y="292.5"/>
<use href="#p" x="170.5" y="302.5"/>
<use href="#p" x="211.5" y="315.5"/>
<use href="#p" x="181.5" y="325.5"/>
<use href="#p" x="175.5" y="222.5"/>
<use href="#p" x="179.5" y="222.5"/>
<use href="#p" x="191.5" y="221.5"/>
<use href="#p" x="215.5" y="226.5"/>
<use href="#p" x="232.5" y="220.5"/>
<use href="#p" x="242.5" y="221.5"/>
<use href="#p" x="240.5" y="229.5"/>
<use href="#p" x="240.5" y="231.5"/>
<use href="#p" x="187.5" y="226.5"/>
<use href="#p" x="183.5" y="230.5"/>
<use href="#p" x="177.5" y="228.5"/>
<use href="#p" x="194.5" y="232.5"/>
<use href="#p" x="191.5" y="235.5"/>
<use href="#p" x="213.5" y="238.5"/>
<use href="#p" x="185.5" y="238.5"/>
<use href="#p" x="181.5" y="243.5"/>
<use href="#p" x="179.5" y="246.5"/>
<use href="#p" x="185.5" y="245.5"/>
<use href="#p" x="196.5" y="242.5"/>
<use href="#p" x="194.5" y="243.5"/>
<use href="#p" x="221.5" y="243.5"/>
<use href="#p" x="219.5" y="246.5"/>
<use href="#p" x="208.5" y="246.5"/>
<use href="#p" x="208.5" y="250.5"/>
<use href="#p" x="230.5" y="246.5"/>
<use href="#p" x="236.5" y="248.5"/>
<use href="#p" x="234.5" y="250.5"/>
<use href="#p" x="238.5" y="246.5"/>
<use href="#p" x="247.5" y="243.5"/>
<use href="#p" x="249.5" y="245.5"/>
<use href="#p" x="172.5" y="253.5"/>
<use href="#p" x="183.5" y="253.5"/>
<use href="#p" x="185.5" y="257.5"/>
<use href="#p" x="200.5" y="256.5"/>
<use href="#p" x="198.5" y="260.5"/>
<use href="#p" x="200.5" y="261.5"/>
<use href="#p" x="196.5" y="261.5"/>
<use href="#p" x="211.5" y="253.5"/>
<use href="#p" x="217.5" y="253.5"/>
<use href="#p" x="215.5" y="256.5"/>
<use href="#p" x="221.5" y="255.5"/>
<use href="#p" x="223.5" y="255.5"/>
<use href="#p" x="211.5" y="256.5"/>
<use href="#p" x="247.5" y="253.5"/>
<use href="#p" x="213.5" y="263.5"/>
<use href="#p" x="213.5" y="268.5"/>
<use href="#p" x="215.5" y="267.5"/>
<use href="#p" x="202.5" y="266.5"/>
<use href="#p" x="200.5" y="270.5"/>
<use href="#p" x="204.5" y="271.5"/>
<use href="#p" x="175.5" y="266.5"/>
<use href="#p" x="172.5" y="275.5"/>
<use href="#p" x="177.5" y="278.5"/>
<use href="#p" x="230.5" y="271.5"/>
<use href="#p" x="230.5" y="278.5"/>
<use href="#p" x="240.5" y="270.5"/>
<use href="#p" x="247.5" y="263.5"/>
<use href="#p" x="244.5" y="276.5"/>
<use href="#p" x="208.5" y="277.5"/>
<use href="#p" x="244.5" y="167.5"/>
<use href="#p" x="215.5" y="171.5"/>
<use href="#p" x="172.5" y="176.5"/>
<use href="#p" x="183.5" y="179.5"/>
<use href="#p" x="181.5" y="180.5"/>
<use href="#p" x="202.5" y="181.5"/>
<use href="#p" x="200.5" y="185.5"/>
<use href="#p" x="185.5" y="188.5"/>
<use href="#p" x="181.5" y="190.5"/>
<use href="#p" x="177.5" y="193.5"/>
<use href="#p" x="181.5" y="196.5"/>
<use href="#p" x="170.5" y="196.5"/>
<use href="#p" x="204.5" y="200.5"/>
<use href="#p" x="208.5" y="203.5"/>
<use href="#p" x="219.5" y="198.5"/>
<use href="#p" x="191.5" y="204.5"/>
<use href="#p" x="217.5" y="208.5"/>
<use href="#p" x="202.5" y="210.5"/>
<use href="#p" x="236.5" y="211.5"/>
<use href="#p" x="175.5" y="210.5"/>
<use href="#p" x="172.5" y="211.5"/>
<use href="#p" x="177.5" y="216.5"/>
<use href="#p" x="196.5" y="218.5"/>
<use href="#p" x="219.5" y="218.5"/>
<use href="#p" x="232.5" y="219.5"/>
<use href="#p" x="242.5" y="219.5"/>
<use href="#p" x="172.5" y="218.5"/>
<use href="#p" x="113.5" y="184.5"/>
<use href="#p" x="111.5" y="182.5"/>
<use href="#p" x="115.5" y="186.5"/>
<use href="#p" x="109.5" y="193.5"/>
<use href="#p" x="113.5" y="191.5"/>
<use href="#p" x="115.5" y="191.5"/>
<use href="#p" x="119.5" y="200.5"/>
<use href="#p" x="111.5" y="200.5"/>
<use href="#p" x="113.5" y="201.5"/>
<use href="#p" x="109.5" y="201.5"/>
<use href="#p" x="111.5" y="207.5"/>
<use href="#p" x="113.5" y="205.5"/>
<use href="#p" x="109.5" y="204.5"/>
<use href="#p" x="117.5" y="206.5"/>
<use href="#p" x="113.5" y="271.5"/>
<use href="#p" x="113.5" y="275.5"/>
<use href="#p" x="119.5" y="274.5"/>
<use href="#p" x="124.5" y="273.5"/>
<use href="#p" x="122.5" y="276.5"/>
<use href="#p" x="126.5" y="276.5"/>
<use href="#p" x="130.5" y="278.5"/>
<use href="#p" x="139.5" y="275.5"/>
<use href="#p" x="143.5" y="279.5"/>
<use href="#p" x="145.5" y="273.5"/>
<use href="#p" x="149.5" y="271.5"/>
<use href="#p" x="153.5" y="275.5"/>
<use href="#p" x="151.5" y="277.5"/>
<use href="#p" x="158.5" y="274.5"/>
<use href="#p" x="162.5" y="276.5"/>
<use href="#p" x="143.5" y="268.5"/>
<use href="#p" x="141.5" y="266.5"/>
<use href="#p" x="149.5" y="265.5"/>
<use href="#p" x="130.5" y="265.5"/>
<use href="#p" x="134.5" y="263.5"/>
<use href="#p" x="126.5" y="268.5"/>
<use href="#p" x="170.5" y="266.5"/>
<use href="#p" x="172.5" y="275.5"/>
<use href="#p" x="115.5" y="279.5"/>
<use href="#p" x="119.5" y="270.5"/>
<use href="#p" x="136.5" y="270.5"/>
<use href="#p" x="103.5" y="119.5"/>
<use href="#p" x="103.5" y="122.5"/>
<use href="#p" x="103.5" y="132.5"/>
<use href="#p" x="103.5" y="134.5"/>
<use href="#p" x="103.5" y="140.5"/>
<use href="#p" x="103.5" y="143.5"/>
<use href="#p" x="103.5" y="147.5"/>
<use href="#p" x="103.5" y="151.5"/>
<use href="#p" x="105.5" y="157.5"/>
<use href="#p" x="105.5" y="162.5"/>
<use href="#p" x="105.5" y="165.5"/>
<use href="#p" x="103.5" y="119.5"/>
<use href="#p" x="103.5" y="123.5"/>
<use href="#p" x="103.5" y="133.5"/>
<use href="#p" x="103.5" y="153.5"/>
<use href="#p" x="103.5" y="155.5"/>
<use href="#p" x="103.5" y="157.5"/>
<use href="#p" x="103.5" y="158.5"/>
<use href="#p" x="103.5" y="160.5"/>
<use href="#p" x="103.5" y="162.5"/>
<use href="#p" x="103.5" y="165.5"/>
<use href="#p" x="103.5" y="166.5"/>
<use href="#p" x="103.5" y="167.5"/>
<use href="#p" x="103.5" y="168.5"/>
<use href="#p" x="103.5" y="169.5"/>
<use href="#p" x="103.5" y="170.5"/>
<use href="#p" x="103.5" y="171.5"/>
<use href="#p" x="103.5" y="172.5"/>
<use href="#p" x="103.5" y="173.5"/>
<use href="#p" x="103.5" y="175.5"/>
<use href="#p" x="103.5" y="176.5"/>
<use href="#p" x="103.5" y="177.5"/>
<use href="#p" x="103.5" y="178.5"/>
<use href="#p" x="103.5" y="179.5"/>
<use href="#p" x="103.5" y="180.5"/>
<use href="#p" x="103.5" y="181.5"/>
<use href="#p" x="103.5" y="182.5"/>
<use href="#p" x="103.5" y="183.5"/>
<use href="#p" x="103.5" y="184.5"/>
<use href="#p" x="103.5" y="185.5"/>
<use href="#p" x="103.5" y="186.5"/>
<use href="#p" x="103.5" y="187.5"/>
<use href="#p" x="103.5" y="188.5"/>
<use href="#p" x="103.5" y="189.5"/>
<use href="#p" x="103.5" y="190.5"/>
<use href="#p" x="103.5" y="191.5"/>
<use href="#p" x="103.5" y="192.5"/>
<use href="#p" x="103.5" y="193.5"/>
<use href="#p" x="103.5" y="194.5"/>
<use href="#p" x="103.5" y="195.5"/>
<use href="#p" x="103.5" y="196.5"/>
<use href="#p" x="103.5" y="197.5"/>
<use href="#p" x="103.5" y="198.5"/>
<use href="#p" x="103.5" y="199.5"/>
<use href="#p" x="103.5" y="200.5"/>
<use href="#p" x="103.5" y="201.5"/>
<use href="#p" x="103.5" y="202.5"/>
<use href="#p" x="103.5" y="203.5"/>
<use href="#p" x="103.5" y="204.5"/>
<use href="#p" x="103.5" y="205.5"/>
<use href="#p" x="103.5" y="206.5"/>
<use href="#p" x="103.5" y="207.5"/>
<use href="#p" x="103.5" y="208.5"/>
<use href="#p" x="103.5" y="210.5"/>
<use href="#p" x="103.5" y="211.5"/>
<use href="#p" x="103.5" y="212.5"/>
<use href="#p" x="103.5" y="213.5"/>
<use href="#p" x="103.5" y="214.5"/>
<use href="#p" x="103.5" y="215.5"/>
<use href="#p" x="103.5" y="216.5"/>
<use href="#p" x="103.5" y="217.5"/>
<use href="#p" x="103.5" y="218.5"/>
<use href="#p" x="103.5" y="219.5"/>
<use href="#p" x="103.5" y="220.5"/>
<use href="#p" x="103.5" y="221.5"/>
<use href="#p" x="103.5" y="222.5"/>
<use href="#p" x="103.5" y="223.5"/>
<use href="#p" x="103.5" y="224.5"/>
<use href="#p" x="103.5" y="225.5"/>
<use href="#p" x="103.5" y="226.5"/>
<use href="#p" x="103.5" y="227.5"/>
<use href="#p" x="103.5" y="228.5"/>
<use href="#p" x="103.5" y="229.5"/>
<use href="#p" x="103.5" y="230.5"/>
<use href="#p" x="103.5" y="232.5"/>
<use href="#p" x="103.5" y="233.5"/>
<use href="#p" x="103.5" y="234.5"/>
<use href="#p" x="103.5" y="235.5"/>
<use href="#p" x="103.5" y="236.5"/>
<use href="#p" x="103.5" y="237.5"/>
<use href="#p" x="103.5" y="238.5"/>
<use href="#p" x="103.5" y="239.5"/>
<use href="#p" x="103.5" y="240.5"/>
<use href="#p" x="103.5" y="241.5"/>
<use href="#p" x="103.5" y="242.5"/>
<use href="#p" x="103.5" y="243.5"/>
<use href="#p" x="103.5" y="244.5"/>
<use href="#p" x="103.5" y="245.5"/>
<use href="#p" x="103.5" y="246.5"/>
<use href="#p" x="103.5" y="247.5"/>
<use href="#p" x="103.5" y="248.5"/>
<use href="#p" x="103.5" y="249.5"/>
<use href="#p" x="103.5" y="250.5"/>
<use href="#p" x="103.5" y="251.5"/>
<use href="#p" x="103.5" y="252.5"/>
<use href="#p" x="103.5" y="253.5"/>
<use href="#p" x="103.5" y="254.5"/>
<use href="#p" x="103.5" y="255.5"/>
<use href="#p" x="103.5" y="256.5"/>
<use href="#p" x="103.5" y="257.5"/>
<use href="#p" x="103.5" y="258.5"/>
<use href="#p" x="103.5" y="260.5"/>
<use href="#p" x="103.5" y="261.5"/>
<use href="#p" x="103.5" y="262.5"/>
<use href="#p" x="103.5" y="263.5"/>
<use href="#p" x="103.5" y="264.5"/>
<use href="#p" x="103.5" y="265.5"/>
<use href="#p" x="103.5" y="266.5"/>
<use href="#p" x="103.5" y="267.5"/>
<use href="#p" x="103.5" y="268.5"/>
<use href="#p" x="103.5" y="269.5"/>
<use href="#p" x="103.5" y="270.5"/>
<use href="#p" x="103.5" y="271.5"/>
<use href="#p" x="103.5" y="272.5"/>
<use href="#p" x="103.5" y="273.5"/>
<use href="#p" x="103.5" y="274.5"/>
<use href="#p" x="103.5" y="275.5"/>
<use href="#p" x="103.5" y="276.5"/>
<use href="#p" x="103.5" y="277.5"/>
<use href="#p" x="103.5" y="278.5"/>
<use href="#p" x="103.5" y="279.5"/>
<use href="#p" x="103.5" y="280.5"/>
<use href="#p" x="103.5" y="281.5"/>
<use href="#p" x="103.5" y="282.5"/>
<use href="#p" x="103.5" y="284.5"/>
<use href="#p" x="103.5" y="285.5"/>
<use href="#p" x="103.5" y="286.5"/>
<use href="#p" x="103.5" y="288.5"/>
<use href="#p" x="103.5" y="289.5"/>
<use href="#p" x="103.5" y="290.5"/>
<use href="#p" x="103.5" y="291.5"/>
<use href="#p" x="103.5" y="292.5"/>
<use href="#p" x="103.5" y="293.5"/>
<use href="#p" x="103.5" y="294.5"/>
<use href="#p" x="103.5" y="295.5"/>
<use href="#p" x="103.5" y="296.5"/>
<use href="#p" x="103.5" y="297.5"/>
<use href="#p" x="103.5" y="298.5"/>
<use href="#p" x="103.5" y="299.5"/>
<use href="#p" x="103.5" y="300.5"/>
<use href="#p" x="103.5" y="301.5"/>
<use href="#p" x="103.5" y="302.5"/>
<use href="#p" x="103.5" y="303.5"/>
<use href="#p" x="103.5" y="304.5"/>
<use href="#p" x="103.5" y="306.5"/>
<use href="#p" x="103.5" y="307.5"/>
<use href="#p" x="103.5" y="309.5"/>
<use href="#p" x="103.5" y="311.5"/>
<use href="#p" x="103.5" y="312.5"/>
<use href="#p" x="103.5" y="313.5"/>
<use href="#p" x="103.5" y="314.5"/>
<use href="#p" x="103.5" y="315.5"/>
<use href="#p" x="103.5" y="316.5"/>
<use href="#p" x="103.5" y="317.5"/>
<use href="#p" x="103.5" y="318.5"/>
<use href="#p" x="103.5" y="319.5"/>
<use href="#p" x="103.5" y="320.5"/>
<use href="#p" x="103.5" y="321.5"/>
<use href="#p" x="103.5" y="322.5"/>
<use href="#p" x="103.5" y="323.5"/>
<use href="#p" x="103.5" y="324.5"/>
<use href="#p" x="103.5" y="325.5"/>
<use href="#p" x="103.5" y="326.5"/>
<use href="#p" x="105.5" y="299.5"/>
<use href="#p" x="105.5" y="296.5"/>
<use href="#p" x="105.5" y="272.5"/>
<use href="#p" x="105.5" y="285.5"/>
<use href="#p" x="105.5" y="278.5"/>
<use href="#p" x="105.5" y="263.5"/>
<use href="#p" x="105.5" y="263.5"/>
<use href="#p" x="105.5" y="274.5"/>
<use href="#p" x="105.5" y="186.5"/>
<use href="#p" x="105.5" y="203.5"/>
<use href="#p" x="105.5" y="213.5"/>
<use href="#p" x="105.5" y="193.5"/>
<use href="#p" x="105.5" y="212.5"/>
<use href="#p" x="105.5" y="214.5"/>
<use href="#p" x="107.5" y="305.5"/>
<use href="#p" x="107.5" y="278.5"/>
<use href="#p" x="107.5" y="272.5"/>
<use href="#p" x="107.5" y="272.5"/>
<use href="#p" x="107.5" y="271.5"/>
<use href="#p" x="107.5" y="271.5"/>
<use href="#p" x="107.5" y="290.5"/>
<use href="#p" x="107.5" y="211.5"/>
<use href="#p" x="107.5" y="208.5"/>
<use href="#p" x="107.5" y="194.5"/>
<use href="#p" x="107.5" y="201.5"/>
<use href="#p" x="107.5" y="207.5"/>
<use href="#p" x="109.5" y="265.5"/>
<use href="#p" x="109.5" y="292.5"/>
<use href="#p" x="109.5" y="303.5"/>
<use href="#p" x="109.5" y="297.5"/>
<use href="#p" x="109.5" y="296.5"/>
<use href="#p" x="109.5" y="283.5"/>
<use href="#p" x="109.5" y="182.5"/>
<use href="#p" x="109.5" y="206.5"/>
<use href="#p" x="109.5" y="188.5"/>
<use href="#p" x="109.5" y="207.5"/>
<use href="#p" x="111.5" y="306.5"/>
<use href="#p" x="111.5" y="280.5"/>
<use href="#p" x="111.5" y="280.5"/>
<use href="#p" x="111.5" y="305.5"/>
<use href="#p" x="111.5" y="295.5"/>
<use href="#p" x="111.5" y="182.5"/>
<use href="#p" x="111.5" y="180.5"/>
<use href="#p" x="111.5" y="181.5"/>
<use href="#p" x="105.5" y="253.5"/>
<use href="#p" x="105.5" y="229.5"/>
<use href="#p" x="105.5" y="229.5"/>
<use href="#p" x="105.5" y="228.5"/>
<use href="#p" x="105.5" y="300.5"/>
<use href="#p" x="105.5" y="249.5"/>
<use href="#p" x="105.5" y="265.5"/>
<use href="#p" x="105.5" y="232.5"/>
<use href="#p" x="105.5" y="253.5"/>
<use href="#p" x="105.5" y="260.5"/>
<use href="#p" x="105.5" y="231.5"/>
<use href="#p" x="105.5" y="236.5"/>
<use href="#p" x="105.5" y="261.5"/>
<use href="#p" x="105.5" y="234.5"/>
<use href="#p" x="105.5" y="263.5"/>
<use href="#p" x="105.5" y="226.5"/>
<use href="#p" x="105.5" y="219.5"/>
<use href="#p" x="105.5" y="239.5"/>
<use href="#p" x="105.5" y="245.5"/>
<use href="#p" x="105.5" y="249.5"/>
<use href="#p" x="105.5" y="211.5"/>
<use href="#p" x="105.5" y="250.5"/>
<use href="#p" x="105.5" y="218.5"/>
<use href="#p" x="105.5" y="242.5"/>
<use href="#p" x="105.5" y="230.5"/>
<use href="#p" x="105.5" y="239.5"/>
<use href="#p" x="105.5" y="203.5"/>
<use href="#p" x="105.5" y="244.5"/>
<use href="#p" x="105.5" y="203.5"/>
<use href="#p" x="105.5" y="255.5"/>
<use href="#p" x="105.5" y="236.5"/>
<use href="#p" x="105.5" y="223.5"/>
<use href="#p" x="105.5" y="275.5"/>
<use href="#p" x="105.5" y="228.5"/>
<use href="#p" x="105.5" y="244.5"/>
<use href="#p" x="107.5" y="290.5"/>
<use href="#p" x="107.5" y="258.5"/>
<use href="#p" x="107.5" y="253.5"/>
<use href="#p" x="107.5" y="245.5"/>
<use href="#p" x="107.5" y="253.5"/>
<use href="#p" x="107.5" y="262.5"/>
<use href="#p" x="107.5" y="237.5"/>
<use href="#p" x="107.5" y="272.5"/>
<use href="#p" x="107.5" y="302.5"/>
<use href="#p" x="107.5" y="265.5"/>
<use href="#p" x="107.5" y="238.5"/>
<use href="#p" x="107.5" y="256.5"/>
<use href="#p" x="107.5" y="234.5"/>
<use href="#p" x="107.5" y="237.5"/>
<use href="#p" x="107.5" y="256.5"/>
<use href="#p" x="107.5" y="271.5"/>
<use href="#p" x="107.5" y="248.5"/>
<use href="#p" x="107.5" y="230.5"/>
<use href="#p" x="107.5" y="270.5"/>
<use href="#p" x="107.5" y="281.5"/>
<use href="#p" x="107.5" y="241.5"/>
<use href="#p" x="107.5" y="244.5"/>
<use href="#p" x="107.5" y="256.5"/>
<use href="#p" x="107.5" y="260.5"/>
<use href="#p" x="107.5" y="272.5"/>
<use href="#p" x="107.5" y="245.5"/>
<use href="#p" x="107.5" y="266.5"/>
<use href="#p" x="107.5" y="242.5"/>
<use href="#p" x="107.5" y="236.5"/>
<use href="#p" x="107.5" y="237.5"/>
<use href="#p" x="109.5" y="252.5"/>
<use href="#p" x="109.5" y="247.5"/>
<use href="#p" x="109.5" y="233.5"/>
<use href="#p" x="109.5" y="260.5"/>
<use href="#p" x="109.5" y="227.5"/>
<use href="#p" x="109.5" y="259.5"/>
<use href="#p" x="109.5" y="237.5"/>
<use href="#p" x="109.5" y="245.5"/>
<use href="#p" x="109.5" y="255.5"/>
<use href="#p" x="109.5" y="250.5"/>
<use href="#p" x="109.5" y="262.5"/>
<use href="#p" x="109.5" y="237.5"/>
<use href="#p" x="109.5" y="268.5"/>
<use href="#p" x="109.5" y="260.5"/>
<use href="#p" x="109.5" y="246.5"/>
<use href="#p" x="109.5" y="232.5"/>
<use href="#p" x="109.5" y="240.5"/>
<use href="#p" x="109.5" y="296.5"/>
<use href="#p" x="109.5" y="269.5"/>
<use href="#p" x="109.5" y="255.5"/>
<use href="#p" x="109.5" y="226.5"/>
<use href="#p" x="109.5" y="264.5"/>
<use href="#p" x="109.5" y="243.5"/>
<use href="#p" x="109.5" y="230.5"/>
<use href="#p" x="109.5" y="228.5"/>
<use href="#p" x="109.5" y="250.5"/>
<use href="#p" x="111.5" y="250.5"/>
<use href="#p" x="111.5" y="249.5"/>
<use href="#p" x="111.5" y="259.5"/>
<use href="#p" x="111.5" y="233.5"/>
<use href="#p" x="111.5" y="229.5"/>
<use href="#p" x="111.5" y="233.5"/>
<use href="#p" x="111.5" y="248.5"/>
<use href="#p" x="111.5" y="231.5"/>
<use href="#p" x="111.5" y="262.5"/>
<use href="#p" x="111.5" y="241.5"/>
<use href="#p" x="111.5" y="227.5"/>
<use href="#p" x="111.5" y="261.5"/>
<use href="#p" x="111.5" y="242.5"/>
<use href="#p" x="111.5" y="244.5"/>
<use href="#p" x="111.5" y="240.5"/>
<use href="#p" x="111.5" y="248.5"/>
<use href="#p" x="111.5" y="248.5"/>
<use href="#p" x="111.5" y="272.5"/>
<use href="#p" x="111.5" y="217.5"/>
<use href="#p" x="111.5" y="201.5"/>
<use href="#p" x="111.5" y="217.5"/>
<use href="#p" x="111.5" y="241.5"/>
<use href="#p" x="111.5" y="239.5"/>
<use href="#p" x="113.5" y="208.5"/>
<use href="#p" x="113.5" y="207.5"/>
<use href="#p" x="113.5" y="220.5"/>
<use href="#p" x="113.5" y="241.5"/>
<use href="#p" x="113.5" y="267.5"/>
<use href="#p" x="113.5" y="207.5"/>
<use href="#p" x="113.5" y="239.5"/>
<use href="#p" x="113.5" y="230.5"/>
<use href="#p" x="113.5" y="238.5"/>
<use href="#p" x="113.5" y="259.5"/>
<use href="#p" x="113.5" y="224.5"/>
<use href="#p" x="113.5" y="223.5"/>
<use href="#p" x="113.5" y="282.5"/>
<use href="#p" x="113.5" y="245.5"/>
<use href="#p" x="113.5" y="214.5"/>
<use href="#p" x="113.5" y="238.5"/>
<use href="#p" x="113.5" y="244.5"/>
<use href="#p" x="113.5" y="253.5"/>
<use href="#p" x="113.5" y="254.5"/>
<use href="#p" x="113.5" y="227.5"/>
<use href="#p" x="115.5" y="261.5"/>
<use href="#p" x="115.5" y="210.5"/>
<use href="#p" x="115.5" y="224.5"/>
<use href="#p" x="115.5" y="244.5"/>
<use href="#p" x="115.5" y="252.5"/>
<use href="#p" x="115.5" y="245.5"/>
<use href="#p" x="115.5" y="233.5"/>
<use href="#p" x="115.5" y="215.5"/>
<use href="#p" x="115.5" y="222.5"/>
<use href="#p" x="115.5" y="250.5"/>
<use href="#p" x="115.5" y="207.5"/>
<use href="#p" x="115.5" y="263.5"/>
<use href="#p" x="115.5" y="243.5"/>
<use href="#p" x="115.5" y="234.5"/>
<use href="#p" x="115.5" y="239.5"/>
<use href="#p" x="115.5" y="239.5"/>
<use href="#p" x="115.5" y="223.5"/>
<use href="#p" x="115.5" y="246.5"/>
<use href="#p" x="117.5" y="245.5"/>
<use href="#p" x="117.5" y="241.5"/>
<use href="#p" x="117.5" y="255.5"/>
<use href="#p" x="117.5" y="245.5"/>
<use href="#p" x="117.5" y="245.5"/>
<use href="#p" x="117.5" y="238.5"/>
<use href="#p" x="117.5" y="219.5"/>
<use href="#p" x="117.5" y="234.5"/>
<use href="#p" x="117.5" y="254.5"/>
<use href="#p" x="117.5" y="251.5"/>
<use href="#p" x="117.5" y="259.5"/>
<use href="#p" x="117.5" y="238.5"/>
<use href="#p" x="117.5" y="252.5"/>
<use href="#p" x="117.5" y="202.5"/>
<use href="#p" x="117.5" y="234.5"/>
<use href="#p" x="117.5" y="211.5"/>
<use href="#p" x="119.5" y="255.5"/>
<use href="#p" x="119.5" y="259.5"/>
<use href="#p" x="119.5" y="235.5"/>
<use href="#p" x="119.5" y="259.5"/>
<use href="#p" x="119.5" y="243.5"/>
<use href="#p" x="119.5" y="234.5"/>
<use href="#p" x="119.5" y="252.5"/>
<use href="#p" x="119.5" y="231.5"/>
<use href="#p" x="119.5" y="244.5"/>
<use href="#p" x="119.5" y="261.5"/>
<use href="#p" x="119.5" y="255.5"/>
<use href="#p" x="119.5" y="243.5"/>
<use href="#p" x="119.5" y="226.5"/>
<use href="#p" x="119.5" y="256.5"/>
<use href="#p" x="122.5" y="241.5"/>
<use href="#p" x="122.5" y="251.5"/>
<use href="#p" x="122.5" y="262.5"/>
<use href="#p" x="122.5" y="252.5"/>
<use href="#p" x="122.5" y="261.5"/>
<use href="#p" x="122.5" y="255.5"/>
<use href="#p" x="122.5" y="245.5"/>
<use href="#p" x="122.5" y="202.5"/>
<use href="#p" x="122.5" y="249.5"/>
<use href="#p" x="122.5" y="218.5"/>
<use href="#p" x="122.5" y="247.5"/>
<use href="#p" x="122.5" y="255.5"/>
<use href="#p" x="124.5" y="224.5"/>
<use href="#p" x="124.5" y="247.5"/>
<use href="#p" x="124.5" y="221.5"/>
<use href="#p" x="124.5" y="248.5"/>
<use href="#p" x="124.5" y="222.5"/>
<use href="#p" x="124.5" y="241.5"/>
<use href="#p" x="124.5" y="255.5"/>
<use href="#p" x="124.5" y="241.5"/>
<use href="#p" x="124.5" y="235.5"/>
<use href="#p" x="124.5" y="226.5"/>
<use href="#p" x="124.5" y="234.5"/>
<use href="#p" x="126.5" y="246.5"/>
<use href="#p" x="126.5" y="245.5"/>
<use href="#p" x="126.5" y="248.5"/>
<use href="#p" x="126.5" y="243.5"/>
<use href="#p" x="126.5" y="249.5"/>
<use href="#p" x="126.5" y="257.5"/>
<use href="#p" x="126.5" y="260.5"/>
<use href="#p" x="126.5" y="249.5"/>
<use href="#p" x="126.5" y="237.5"/>
<use href="#p" x="126.5" y="233.5"/>
<use href="#p" x="128.5" y="261.5"/>
<use href="#p" x="128.5" y="252.5"/>
<use href="#p" x="128.5" y="247.5"/>
<use href="#p" x="128.5" y="236.5"/>
<use href="#p" x="128.5" y="251.5"/>
<use href="#p" x="128.5" y="238.5"/>
<use href="#p" x="128.5" y="256.5"/>
<use href="#p" x="128.5" y="255.5"/>
<use href="#p" x="128.5" y="237.5"/>
<use href="#p" x="130.5" y="247.5"/>
<use href="#p" x="130.5" y="257.5"/>
<use href="#p" x="130.5" y="238.5"/>
<use href="#p" x="130.5" y="253.5"/>
<use href="#p" x="130.5" y="255.5"/>
<use href="#p" x="130.5" y="246.5"/>
<use href="#p" x="130.5" y="244.5"/>
<use href="#p" x="130.5" y="237.5"/>
<use href="#p" x="132.5" y="241.5"/>
<use href="#p" x="132.5" y="227.5"/>
<use href="#p" x="132.5" y="246.5"/>
<use href="#p" x="132.5" y="247.5"/>
<use href="#p" x="132.5" y="239.5"/>
<use href="#p" x="132.5" y="246.5"/>
<use href="#p" x="132.5" y="242.5"/>
<use href="#p" x="134.5" y="236.5"/>
<use href="#p" x="134.5" y="261.5"/>
<use href="#p" x="134.5" y="257.5"/>
<use href="#p" x="134.5" y="250.5"/>
<use href="#p" x="134.5" y="247.5"/>
<use href="#p" x="134.5" y="238.5"/>
<use href="#p" x="134.5" y="253.5"/>
<use href="#p" x="136.5" y="249.5"/>
<use href="#p" x="136.5" y="230.5"/>
<use href="#p" x="136.5" y="250.5"/>
<use href="#p" x="136.5" y="228.5"/>
<use href="#p" x="136.5" y="221.5"/>
<use href="#p" x="136.5" y="245.5"/>
<use href="#p" x="139.5" y="235.5"/>
<use href="#p" x="139.5" y="249.5"/>
<use href="#p" x="139.5" y="255.5"/>
<use href="#p" x="139.5" y="241.5"/>
<use href="#p" x="139.5" y="253.5"/>
<use href="#p" x="139.5" y="234.5"/>
<use href="#p" x="141.5" y="234.5"/>
<use href="#p" x="141.5" y="249.5"/>
<use href="#p" x="141.5" y="260.5"/>
<use href="#p" x="141.5" y="245.5"/>
<use href="#p" x="141.5" y="248.5"/>
<use href="#p" x="143.5" y="252.5"/>
<use href="#p" x="143.5" y="261.5"/>
<use href="#p" x="143.5" y="235.5"/>
<use href="#p" x="143.5" y="242.5"/>
<use href="#p" x="143.5" y="235.5"/>
<use href="#p" x="145.5" y="237.5"/>
<use href="#p" x="145.5" y="224.5"/>
<use href="#p" x="145.5" y="239.5"/>
<use href="#p" x="145.5" y="256.5"/>
<use href="#p" x="145.5" y="226.5"/>
<use href="#p" x="147.5" y="229.5"/>
<use href="#p" x="147.5" y="231.5"/>
<use href="#p" x="147.5" y="230.5"/>
<use href="#p" x="147.5" y="230.5"/>
<use href="#p" x="149.5" y="239.5"/>
<use href="#p" x="149.5" y="250.5"/>
<use href="#p" x="149.5" y="260.5"/>
<use href="#p" x="149.5" y="253.5"/>
<use href="#p" x="151.5" y="256.5"/>
<use href="#p" x="151.5" y="236.5"/>
<use href="#p" x="151.5" y="252.5"/>
<use href="#p" x="151.5" y="249.5"/>
<use href="#p" x="153.5" y="241.5"/>
<use href="#p" x="153.5" y="254.5"/>
<use href="#p" x="153.5" y="235.5"/>
<use href="#p" x="153.5" y="225.5"/>
<use href="#p" x="155.5" y="234.5"/>
<use href="#p" x="155.5" y="240.5"/>
<use href="#p" x="155.5" y="246.5"/>
<use href="#p" x="155.5" y="248.5"/>
<use href="#p" x="158.5" y="255.5"/>
<use href="#p" x="158.5" y="236.5"/>
<use href="#p" x="158.5" y="248.5"/>
<use href="#p" x="158.5" y="252.5"/>
<use href="#p" x="160.5" y="249.5"/>
<use href="#p" x="160.5" y="245.5"/>
<use href="#p" x="160.5" y="242.5"/>
<use href="#p" x="160.5" y="224.5"/>
<use href="#p" x="162.5" y="237.5"/>
<use href="#p" x="162.5" y="257.5"/>
<use href="#p" x="162.5" y="238.5"/>
<use href="#p" x="164.5" y="242.5"/>
<use href="#p" x="164.5" y="250.5"/>
<use href="#p" x="164.5" y="227.5"/>
<use href="#p" x="166.5" y="247.5"/>
<use href="#p" x="166.5" y="234.5"/>
<use href="#p" x="166.5" y="252.5"/>
<use href="#p" x="168.5" y="236.5"/>
<use href="#p" x="168.5" y="231.5"/>
<use href="#p" x="168.5" y="245.5"/>
<use href="#p" x="170.5" y="235.5"/>
<use href="#p" x="170.5" y="229.5"/>
<use href="#p" x="170.5" y="253.5"/>
</g>
</g>
<rect x="80.5" y="58.5" width="496" height="369" fill="none" stroke="#000" stroke-width="1" shape-rendering="crispEdges"/>
<rect x="482.5" y="65.6" width="87" height="46" rx="2.8" fill="#fff" fill-opacity="0.8" stroke="#ccc" stroke-width="1.39"/>
<use href="#d" class="b" x="501.5" y="76.3"/>
<use href="#p" class="r" x="501.5" y="96.7"/>
<text class="t" x="526.9" y="81.4">MSFT</text>
<text class="t" x="526.9" y="101.8">IBM</text>
</svg></body></html>
